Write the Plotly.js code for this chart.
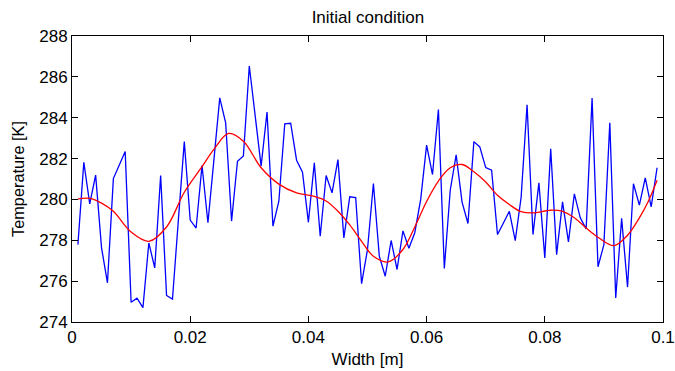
<!DOCTYPE html>
<html>
<head>
<meta charset="utf-8">
<script src="https://cdn.plot.ly/plotly-3.0.1.min.js"></script>
<style>html,body{margin:0;padding:0;background:#fff;}#chart{width:675px;height:371px;}</style>
</head>
<body>
<div id="chart"></div>
<script>
// Noisy initial temperature profile (blue), sampled every 0.001 m from 0.001 to 0.099 m
const noisyTemp = [
  277.79, 281.82, 279.78, 281.19, 277.63, 275.92, 281.02, 281.68, 282.35, 274.97,
  275.17, 274.70, 277.87, 276.65, 281.17, 275.30, 275.12, 279.00, 282.83, 278.99,
  278.60, 281.66, 278.86, 281.90, 284.97, 283.75, 278.94, 281.87, 282.13, 286.53,
  284.10, 281.63, 284.28, 278.69, 279.91, 283.70, 283.73, 281.92, 281.33, 278.88,
  281.79, 278.20, 281.17, 280.32, 281.95, 278.12, 280.13, 280.09, 275.88, 277.55,
  280.78, 277.22, 276.24, 277.99, 276.57, 278.46, 277.61, 278.37, 280.00, 282.66,
  281.22, 284.40, 276.62, 280.45, 282.18, 279.87, 278.82, 282.83, 282.57, 281.56,
  281.43, 278.28, 278.85, 279.42, 277.98, 280.12, 284.63, 278.28, 280.81, 277.14,
  282.48, 277.30, 279.88, 277.92, 280.27, 279.10, 278.56, 284.96, 276.70, 277.79,
  283.75, 275.18, 279.08, 275.71, 280.77, 279.72, 281.05, 279.64, 281.55
];
// grid positions of the noisy samples [m]
const noisyWidth = noisyTemp.map((_, k) => (k + 1) / 1000);

// Smooth profile (red), read at these positions [m]
const smoothWidth = [
  0.001, 0.003, 0.005, 0.007, 0.010, 0.013, 0.016, 0.019, 0.022, 0.024,
  0.0265, 0.029, 0.032, 0.035, 0.038, 0.041, 0.043, 0.045, 0.047, 0.049,
  0.051, 0.0535, 0.056, 0.058, 0.060, 0.062, 0.064, 0.066, 0.068, 0.070,
  0.072, 0.074, 0.076, 0.078, 0.081, 0.083, 0.085, 0.087, 0.089, 0.0917,
  0.094, 0.096, 0.0975, 0.099
];
const smoothTemp = [
  280.03, 280.05, 279.82, 279.42, 278.40, 277.95, 278.65, 280.35, 281.60, 282.45,
  283.23, 282.85, 281.55, 280.75, 280.32, 280.15, 279.92, 279.42, 278.75, 277.95,
  277.22, 276.94, 277.55, 278.65, 279.90, 280.90, 281.55, 281.71, 281.35, 280.85,
  280.20, 279.75, 279.40, 279.34, 279.47, 279.42, 279.10, 278.60, 278.15, 277.74,
  278.25, 279.10, 279.90, 280.94
];

const xTicks = [0, 0.02, 0.04, 0.06, 0.08, 0.1];
const xTickLabels = ['0', '0.02', '0.04', '0.06', '0.08', '0.1'];
const yTicks = [274, 276, 278, 280, 282, 284, 286, 288];

const FONT = 'Liberation Sans, Arial, Helvetica, sans-serif';

const traces = [
  {x: noisyWidth, y: noisyTemp, type: 'scatter', mode: 'lines',
   line: {color: '#0000ff', width: 1.3}, hoverinfo: 'skip'},
  {x: smoothWidth, y: smoothTemp, type: 'scatter', mode: 'lines',
   line: {color: '#ff0000', width: 1.3, shape: 'spline', smoothing: 1}, hoverinfo: 'skip'}
];

const axisCommon = {
  showline: true, linecolor: '#000', linewidth: 1, mirror: 'ticks',
  ticks: 'inside', ticklen: 6, tickwidth: 1, tickcolor: '#000',
  showgrid: false, zeroline: false,
  tickfont: {family: FONT, size: 17, color: '#000'}
};

const layout = {
  width: 675, height: 371,
  margin: {l: 72, r: 12, t: 36, b: 49, pad: 0},
  paper_bgcolor: '#fff', plot_bgcolor: '#fff',
  showlegend: false,
  title: {text: 'Initial condition', font: {family: FONT, size: 17, color: '#000'},
          x: 0.545, xanchor: 'center', y: 0.953, yanchor: 'middle'},
  xaxis: Object.assign({}, axisCommon, {
    range: [0, 0.1], tickvals: xTicks, ticktext: xTickLabels,
    title: {text: 'Width [m]', font: {family: FONT, size: 17, color: '#000'}, standoff: 6}
  }),
  yaxis: Object.assign({}, axisCommon, {
    range: [274, 288], tickvals: yTicks,
    title: {text: 'Temperature [K]', font: {family: FONT, size: 16.3, color: '#000'}, standoff: 10}
  })
};

Plotly.newPlot('chart', traces, layout, {staticPlot: true, displayModeBar: false});
</script>
</body>
</html>
